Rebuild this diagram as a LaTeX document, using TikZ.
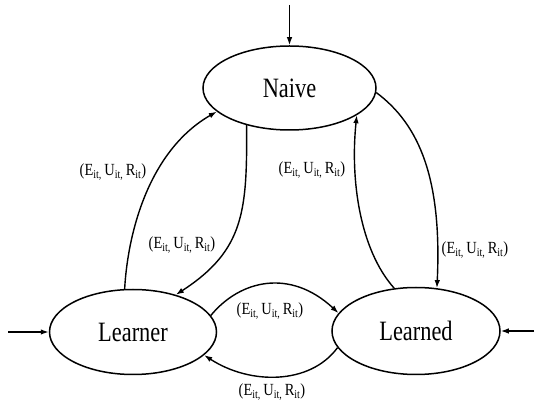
\documentclass[tikz,border=0pt]{standalone}
\usepackage{fontspec}
\setmainfont{Liberation Serif}
\usetikzlibrary{arrows.meta,shapes.geometric}
\newcommand{\statetxt}[1]{\scalebox{0.8}[1]{#1}}
\newcommand{\edgelab}{\scalebox{0.85}[1]{(E\textsubscript{it,}\,U\textsubscript{it,}\,R\textsubscript{it})}}
\tikzset{
  state/.style={draw, ellipse, line width=1.5pt, inner sep=0pt, font=\fontsize{28}{30}\selectfont},
  arr/.style={line width=1.4pt, -{Latex[length=8pt,width=5.5pt]}},
  lab/.style={font=\fontsize{17}{19}\selectfont, inner sep=0pt}
}
\begin{document}
\begin{tikzpicture}[x=1pt,y=-1pt]
\useasboundingbox (0,0) rectangle (542,403);
\node[state, minimum width=173pt, minimum height=84pt] (naive) at (289.5,88) {\statetxt{Naive}};
\node[state, minimum width=167pt, minimum height=85pt] (learner) at (133,332) {\statetxt{Learner}};
\node[state, minimum width=168pt, minimum height=87pt] (learned) at (416,331) {\statetxt{Learned}};
\coordinate (topin) at (289.5,5);
\coordinate (leftin) at (8,332);
\coordinate (rightin) at (534,331);
\draw[arr] (topin) -- (naive.north);
\draw[arr] (leftin) -- (learner.west);
\draw[arr] (rightin) -- (learned.east);
\draw[arr] (learner.101) .. controls (128,230) and (150,150) .. (naive.198);
\draw[arr] (naive.221) .. controls (247,210) and (245,250) .. (learner.41);
\draw[arr] (learned.117) .. controls (360,250) and (350,180) .. (naive.338);
\draw[arr] (naive.357) .. controls (420,125) and (442,180) .. (learned.64);
\draw[arr] (learner.12) .. controls (240,280) and (290,268) .. (learned.167);
\draw[arr] (learned.192) .. controls (310,385) and (250,385) .. (learner.342);
\node[lab] (l1) at (113,172) {\edgelab};
\node[lab] (l2) at (182,245) {\edgelab};
\node[lab] (l3) at (312,170) {\edgelab};
\node[lab] (l4) at (475,250) {\edgelab};
\node[lab] (l5) at (270,311) {\edgelab};
\node[lab] (l6) at (272,392) {\edgelab};
\end{tikzpicture}
\end{document}
